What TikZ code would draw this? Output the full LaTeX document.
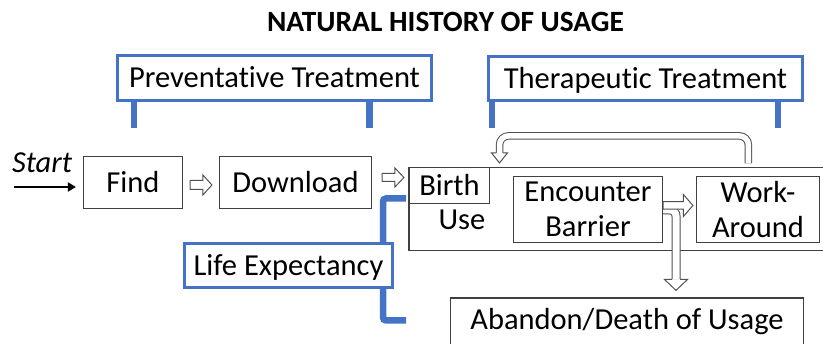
\documentclass[tikz,border=0pt]{standalone}
\usepackage{fontspec}
\setmainfont{Carlito}[Ligatures=NoCommon]
\usetikzlibrary{arrows.meta,calc}

\definecolor{ribbon}{RGB}{68,114,196}
\definecolor{edge}{RGB}{64,64,64}
\definecolor{tubeedge}{RGB}{80,80,80}

% hollow block arrow pointing right: tail, tip, shaft half-width, head half-width, head length
\newcommand\hollowR[5]{%
  \draw[hollow] let \p1=(#1), \p2=(#2) in
    (\x1,\y2+#3pt) -- (\x2-#5pt,\y2+#3pt) -- (\x2-#5pt,\y2+#4pt) -- (\x2,\y2)
    -- (\x2-#5pt,\y2-#4pt) -- (\x2-#5pt,\y2-#3pt) -- (\x1,\y2-#3pt) -- cycle;}

% open head pointing down, closing a tube: tip, shaft half-width, head half-width, head length
\newcommand\headD[4]{%
  \fill[white] ($(#1)+(-#3,-#4)$) -- (#1) -- ($(#1)+(#3,-#4)$) -- cycle;
  \draw[hollow, fill=none] ($(#1)+(-#2,-#4)$) -- ($(#1)+(-#3,-#4)$) -- (#1)
    -- ($(#1)+(#3,-#4)$) -- ($(#1)+(#2,-#4)$);}

\tikzset{
  body/.style={font=\fontsize{30.5}{35}\selectfont},
  box/.style={body, draw=edge, line width=1.2pt, fill=white, inner sep=0pt,
    text height=19.5pt, text depth=0pt},
  tallbox/.style={body, draw=edge, line width=1.2pt, fill=white, inner sep=0pt,
    align=center},
  bluebox/.style={body, draw=ribbon, line width=3pt, fill=white, inner sep=0pt,
    text height=19.5pt, text depth=0pt},
  leg/.style={draw=ribbon, line width=6.5pt},
  hollow/.style={draw=tubeedge, line width=1pt, fill=white, line join=miter},
  tube/.style={draw=tubeedge, line width=1pt, double=white, double distance=#1},
  tube/.default=6pt,
}

\begin{document}
\begin{tikzpicture}[x=1pt, y=-1pt]
\useasboundingbox (0,0) rectangle (823,344);
\clip (0,0) rectangle (823,344);

% title
\node[font=\bfseries\fontsize{29.4}{34}\selectfont, anchor=base] (title)
  at (445.5,32) {NATURAL HISTORY OF USAGE};

% treatment banners with their legs
\node[bluebox, minimum width=314pt, minimum height=45pt] (prev) at (274.5,78) {};
\draw[leg] ($(prev.south)+(-140.5,0)$) -- ++(0,26.5);
\draw[leg] ($(prev.south)+(95,0)$) -- ++(0,26.5);
\node[bluebox, minimum width=314pt, minimum height=45pt] at (prev) {Preventative Treatment};

\node[bluebox, minimum width=314pt, minimum height=44pt] (ther) at (645.5,78.5) {};
\draw[leg] ($(ther.south)+(-153.5,0)$) -- ++(0,26.5);
\draw[leg] ($(ther.south)+(132.5,0)$) -- ++(0,26.5);
\node[bluebox, minimum width=314pt, minimum height=44pt] at (ther) {Therapeutic Treatment};

% start marker
\node[body, font=\itshape\fontsize{30.5}{35}\selectfont, anchor=base] (start) at (42,173) {Start};
\coordinate (s0) at (14,187);

% first stages
\node[box, minimum width=99pt, minimum height=52pt] (find) at (133,182.5) {Find};
\node[box, minimum width=152pt, minimum height=52pt] (download) at (295.5,182.5) {Download};
\draw[line width=2pt, -{Triangle[length=8pt,width=9pt]}, shorten >=7pt] (s0) -- (s0 -| find.west);

% use phase
\node[box, minimum width=471pt, minimum height=83pt] (usebox) at (644.5,209) {};
\node[box, minimum width=80pt, minimum height=36pt] (birth) at (449.5,185.5) {Birth};
\node[body, anchor=base] (use) at (462,230) {Use};
\node[tallbox, minimum width=149pt, minimum height=66pt] (encounter) at (588,209.5) {Encounter\\Barrier};
\node[tallbox, minimum width=123pt, minimum height=66pt] (work) at (758,209.5) {Work-\\Around};

% life expectancy bracket
\coordinate (brtop) at (406,198.5);
\coordinate (brbot) at (406,320.5);
\draw[leg, rounded corners=3pt] (brtop) -- ++(-23,0) |- (brbot);
\node[bluebox, minimum width=208pt, minimum height=44pt] (life) at (288.5,265.5) {Life Expectancy};

% end of usage
\node[box, minimum width=353pt, minimum height=62pt, text depth=17.5pt] (abandon) at (627,329) {Abandon/Death of Usage};

% flow arrows
\coordinate (fd1) at ($(find.east)+(7,2.5)$);
\coordinate (fd2) at ($(download.west)+(-7,2.5)$);
\hollowR{fd1}{fd2}{4.5}{10}{9}

\coordinate (db1) at ($(download.east)+(10,-5)$);
\coordinate (db2) at ($(birth.west)+(-5,-8)$);
\hollowR{db1}{db2}{4}{9.5}{9}

% branch down to abandonment
\coordinate (dn0) at ($(encounter.east)+(0,0.5)$);
\coordinate (dn1) at ($(abandon.north)+(49,-7)$);
\draw[tube=7pt, rounded corners=6pt] (dn0) -- (dn0 -| dn1) -- ($(dn1)+(0,-11)$);
\headD{dn1}{4}{11.5}{11}

\coordinate (ew1) at ($(encounter.east)+(0,-4)$);
\coordinate (ew2) at ($(work.west)+(-3,-4)$);
\hollowR{ew1}{ew2}{3.75}{11}{9.5}

% loop back from work-around to birth
\coordinate (lp0) at ($(usebox.north west)+(340,-3.5)$);
\coordinate (lp1) at ($(birth.north)+(50,-4)$);
\draw[tube=5.5pt, rounded corners=9pt] (lp0) -- ++(0,-27.5) -| ($(lp1)+(0,-10)$);
\headD{lp1}{3.25}{8}{10}
\end{tikzpicture}
\end{document}
